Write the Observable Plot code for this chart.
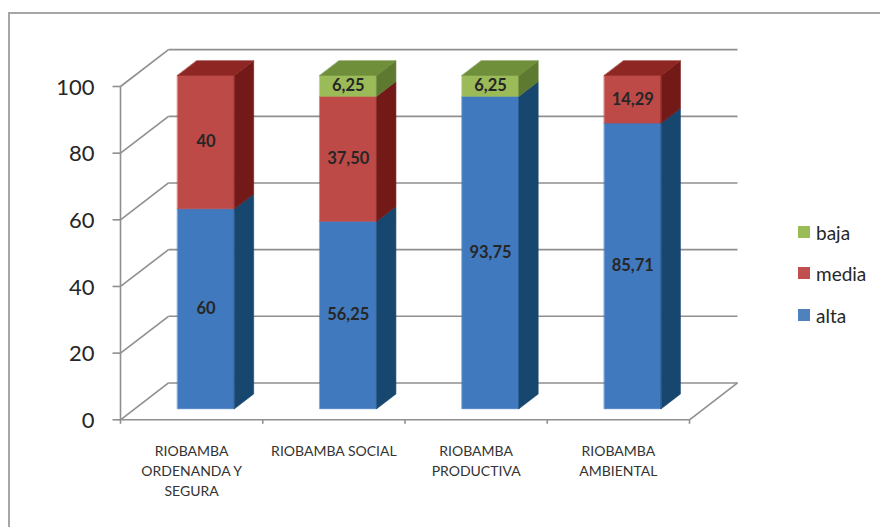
<!DOCTYPE html>
<html>
<head>
<meta charset="utf-8">
<script src="https://cdn.jsdelivr.net/npm/d3@7"></script>
<script src="https://cdn.jsdelivr.net/npm/@observablehq/plot@0.6"></script>
<style>
  html, body { margin: 0; padding: 0; background: #fff; }
  #wrap { position: relative; width: 880px; height: 527px; overflow: hidden; font-family: Lato, "Open Sans", sans-serif; }
  #frame { position: absolute; left: 8px; top: 12px; width: 1000px; height: 1000px; border: 2px solid #a6a6a6; pointer-events: none; }
  #legend { position: absolute; left: 798px; top: 0; }
  .item { position: absolute; left: 0; display: flex; align-items: center; height: 24px; white-space: nowrap; font-size: 19px; color: #262626; }
  .sw { width: 12px; height: 12px; margin-right: 6px; }
</style>
</head>
<body>
<div id="wrap"><div id="chart"></div><div id="legend"></div><div id="frame"></div></div>
<script>
// ---- data ----
const categories = ["RIOBAMBA\nORDENANDA Y\nSEGURA", "RIOBAMBA SOCIAL", "RIOBAMBA\nPRODUCTIVA", "RIOBAMBA\nAMBIENTAL"];
const seriesNames = ["alta", "media", "baja"];
const alta  = [60, 56.25, 93.75, 85.71];
const media = [40, 37.50, 0, 14.29];
const baja  = [0, 6.25, 6.25, 0];
const yTicks = [0, 20, 40, 60, 80, 100];
const legendOrder = ["baja", "media", "alta"];

// ---- styles ----
const palette = {
  alta:  {front: "#4179BE", side: "#17476F", top: "#2E5C92", legend: "#4F81BD"},
  media: {front: "#BE4A47", side: "#731A18", top: "#8E2724", legend: "#C0504D"},
  baja:  {front: "#9BBB59", side: "#5E7A31", top: "#6F8F3A", legend: "#9BBB59"}
};
const gridColor = "#8f8f8f";

// 3D projection (depth expressed in scale units)
const DX = 0.3375;   // x shift for full depth (category units)
const DY = 11.05;    // y shift for full depth (value units)
const F0 = 0.3, F1 = 0.7, HALF = 0.2;
const P = (x, v, d) => ({x: x + d * DX, y: v + d * DY});

const values = {alta, media, baja};
const fmt = v => Number.isInteger(v) ? String(v) : v.toFixed(2).replace(".", ",");

// build faces
const polys = [];
const labels = [];
categories.forEach((cat, i) => {
  const c = i + 0.5;
  let base = 0;
  const segs = seriesNames.map(s => ({s, v: values[s][i]})).filter(d => d.v > 0);
  segs.forEach((seg, k) => {
    const lo = base, hi = base + seg.v;
    base = hi;
    const col = palette[seg.s];
    const front = [P(c - HALF, lo, F0), P(c + HALF, lo, F0), P(c + HALF, hi, F0), P(c - HALF, hi, F0)];
    const side = [P(c + HALF, lo, F0), P(c + HALF, lo, F1), P(c + HALF, hi, F1), P(c + HALF, hi, F0)];
    front.forEach(p => polys.push({...p, id: `${i}-${seg.s}-f`, color: col.front}));
    side.forEach(p => polys.push({...p, id: `${i}-${seg.s}-s`, color: col.side}));
    if (k === segs.length - 1) {
      const top = [P(c - HALF, hi, F0), P(c + HALF, hi, F0), P(c + HALF, hi, F1), P(c - HALF, hi, F1)];
      top.forEach(p => polys.push({...p, id: `${i}-${seg.s}-t`, color: col.top}));
    }
    labels.push({...P(c, (lo + hi) / 2, F0), text: fmt(seg.v)});
  });
});

const n = categories.length;
const lines = [];
yTicks.forEach(v => {
  lines.push({a: P(0, v, 1), b: P(n, v, 1)});  // back wall gridline
  lines.push({a: P(0, v, 0), b: P(0, v, 1)});  // side wall diagonal
});
lines.push({a: P(0, 0, 0), b: P(n, 0, 0)});     // floor front edge
lines.push({a: P(n, 0, 0), b: P(n, 0, 1)});     // floor right edge
lines.push({a: P(0, 0, 0), b: P(0, 100, 0)});   // front y axis
const yTickMarks = yTicks.map(v => ({a: {x: 0, y: v}, b: {x: -0.056, y: v}}));
const xTickMarks = d3.range(n + 1).map(k => ({a: {x: k, y: 0}, b: {x: k, y: -1.2}}));

const chart = Plot.plot({
  width: 880,
  height: 527,
  marginLeft: 120,
  marginRight: 191,
  marginTop: 86,
  marginBottom: 107.7,
  x: {domain: [0, n], axis: null},
  y: {domain: [0, 100], axis: null},
  color: {type: "identity"},
  style: {fontFamily: "Lato, 'Open Sans', sans-serif", color: "#262626", background: "transparent"},
  marks: [
    Plot.link(lines, {x1: d => d.a.x, y1: d => d.a.y, x2: d => d.b.x, y2: d => d.b.y, stroke: gridColor, strokeWidth: 1.6}),
    Plot.link(yTickMarks.concat(xTickMarks), {x1: d => d.a.x, y1: d => d.a.y, x2: d => d.b.x, y2: d => d.b.y, stroke: gridColor, strokeWidth: 1.6}),
    Plot.line(polys, {x: "x", y: "y", z: "id", fill: "color", stroke: "color", strokeWidth: 0.6, curve: "linear-closed"}),
    Plot.text(labels, {x: "x", y: "y", text: "text", fontWeight: "bold", fontSize: 16.5, fill: "#262626"}),
    Plot.text(yTicks, {x: () => 0, y: d => d, text: d => String(d), textAnchor: "end", dx: -26, dy: 1, fontSize: 22, fill: "#262626"}),
    Plot.text(categories, {x: (d, i) => i + 0.5, y: () => 0, text: d => d, lineAnchor: "top", dy: 22, fontSize: 14, lineHeight: 1.43, fill: "#333333"})
  ]
});
document.getElementById("chart").appendChild(chart);

// legend
const legendTops = {baja: 232, media: 273, alta: 315};
const leg = document.getElementById("legend");
legendOrder.forEach(s => {
  const div = document.createElement("div");
  div.className = "item";
  div.style.top = (legendTops[s] - 12) + "px";
  div.innerHTML = `<span class="sw" style="background:${palette[s].legend}"></span><span>${s}</span>`;
  leg.appendChild(div);
});
</script>
</body>
</html>
